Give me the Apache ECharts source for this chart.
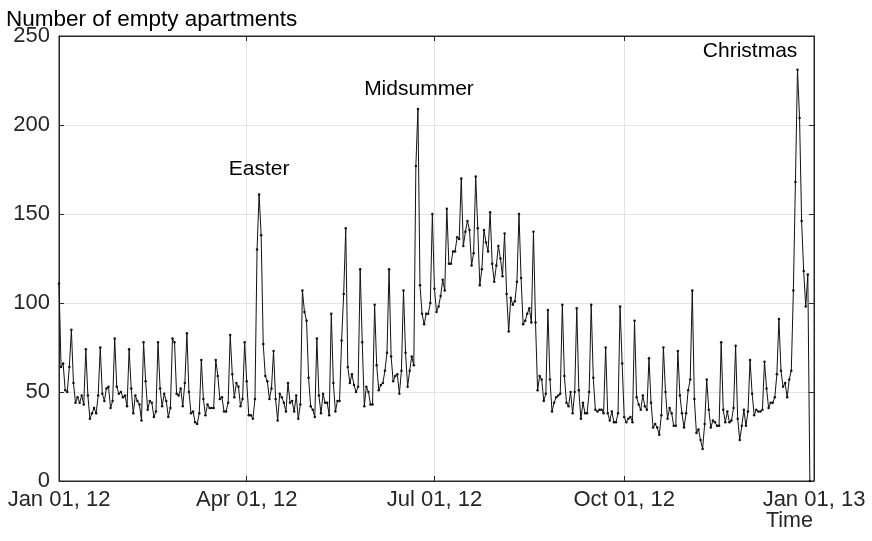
<!DOCTYPE html>
<html>
<head>
<meta charset="utf-8">
<script src="https://cdn.jsdelivr.net/npm/echarts@6/dist/echarts.min.js"></script>
<style>
html,body{margin:0;padding:0;background:#fff;}
#chart{width:872px;height:541px;}
</style>
</head>
<body>
<div id="chart"></div>
<script>
// Daily values, 2012 (index 0 = Jan 01, 2012)
var q1Values = [111,64,66,51,50,64,85,55,44,47,
  44,48,43,74,48,35,38,41,38,48,
  75,49,45,52,53,41,45,80,53,49,
  50,47,48,42,74,52,38,48,45,43,
  34,78,56,40,45,44,36,39,78,52,
  42,49,45,36,41,80,78,49,48,52,
  42,55,83,50,38,39,33,32,38,68,
  46,37,43,41,41,41,68,59,46,47,
  39,39,44,82,60,47,55,53,42,46,78];
var q2Values = [56,37,37,35,46,130,161,138,77,59,
  56,46,52,73,46,34,49,47,44,39,
  55,44,45,39,48,35,43,107,95,90,
  58,42,40,36,80,48,38,49,44,44,
  37,94,55,39,45,45,79,105,142,64,
  55,60,54,50,53,119,78,42,53,50,
  43,43,99,65,51,54,55,62,72,119,
  70,56,59,60,49,62,107,72,53,62,
  70,65,177,209,110,94,88,94,94,100,150];
var q3Values = [108,95,98,104,113,107,153,122,122,129,
  129,137,136,170,132,140,146,141,121,128,
  171,142,110,119,141,134,129,151,122,112,
  121,132,125,115,139,105,84,103,99,101,
  112,150,114,88,90,94,97,89,140,89,
  51,59,57,45,49,96,57,39,44,47,
  48,49,99,59,44,42,50,38,50,97,
  51,35,44,38,38,50,99,58,40,39,
  40,40,38,75,38,34,39,33,33,38,98,66];
var q4Values = [36,33,35,36,33,90,47,43,40,48,
  42,40,69,44,30,32,30,26,37,75,
  50,35,41,38,31,31,73,48,38,30,
  38,51,57,107,46,27,29,23,18,32,
  57,40,30,34,33,31,31,78,40,33,
  39,33,34,41,76,35,23,31,40,31,
  39,68,49,37,40,39,39,40,67,52,
  41,44,44,47,60,91,62,53,55,47,
  57,62,107,168,231,204,146,118,98,116,0];

var tickLabels = ['Jan 01, 12','Apr 01, 12','Jul 01, 12','Oct 01, 12','Jan 01, 13'];
var tickDays = [0, 91, 182, 274, 366];   // day offsets of the tick dates from Jan 01, 2012
var yTicks = [0,50,100,150,200,250];

var annotations = [
  {name:'Easter', day: 97, value: 175},
  {name:'Midsummer', day: 174.5, value: 220},
  {name:'Christmas', day: 335, value: 241.5}
];

var allValues = q1Values.concat(q2Values, q3Values, q4Values);
var seriesData = allValues.map(function(v,i){ return [i, v]; });

var FONT = '"Liberation Sans", Arial, Helvetica, sans-serif';
var AX = '#262626';
var GRIDC = '#e3e3e3';

function labelFor(val){
  var i = tickDays.indexOf(val);
  return i >= 0 ? tickLabels[i] : '';
}

var chart = echarts.init(document.getElementById('chart'), null, {renderer:'canvas'});
chart.setOption({
  animation:false,
  backgroundColor:'#fff',
  title:{text:'Number of empty apartments', left:1, top:3,
    textStyle:{fontFamily:FONT, fontSize:22.5, fontWeight:'normal', color:'#000'}},
  grid:{left:59, right:58, top:36, bottom:60, show:true, borderColor:AX, borderWidth:1, backgroundColor:'transparent'},
  graphic:[{type:'text', left:766, top:510, style:{text:'Time', font:'21.5px '+FONT, fill:AX}}],
  xAxis:[{
    type:'value', min:tickDays[0], max:tickDays[4],
    axisLine:{show:true, onZero:false, lineStyle:{color:AX, width:1}},
    axisTick:{show:true, inside:true, length:5, lineStyle:{color:AX}, customValues:tickDays},
    axisLabel:{show:true, customValues:tickDays, formatter:function(v){return labelFor(v);},
      fontFamily:FONT, fontSize:22, color:AX, margin:8},
    splitLine:{show:true, lineStyle:{color:GRIDC, width:1}}
  },{
    type:'value', position:'top', min:tickDays[0], max:tickDays[4],
    axisLine:{show:true, onZero:false, lineStyle:{color:AX}},
    axisTick:{show:true, inside:true, length:5, lineStyle:{color:AX}, customValues:tickDays},
    axisLabel:{show:false}, splitLine:{show:false}
  }],
  yAxis:[{
    type:'value', min:0, max:250, interval:50,
    axisLine:{show:true, onZero:false, lineStyle:{color:AX}},
    axisTick:{show:true, inside:true, length:5, lineStyle:{color:AX}},
    axisLabel:{fontFamily:FONT, fontSize:22, color:AX, margin:9},
    splitLine:{show:true, lineStyle:{color:GRIDC, width:1}}
  },{
    type:'value', position:'right', min:0, max:250, interval:50,
    axisLine:{show:true, onZero:false, lineStyle:{color:AX}},
    axisTick:{show:true, inside:true, length:5, lineStyle:{color:AX}},
    axisLabel:{show:false}, splitLine:{show:false}
  }],
  series:[{
    type:'line', data:seriesData, xAxisIndex:0, yAxisIndex:0,
    symbol:'circle', symbolSize:2.5, showAllSymbol:true,
    itemStyle:{color:'#111'},
    lineStyle:{color:'#111', width:1},
    markPoint:{
      symbol:'circle', symbolSize:1, itemStyle:{color:'rgba(0,0,0,0)'},
      label:{show:true, position:'inside', formatter:'{b}', fontFamily:FONT, fontSize:21, color:'#000'},
      data: annotations.map(function(a){ return {name:a.name, coord:[a.day, a.value]}; })
    }
  }]
});
</script>
</body>
</html>
